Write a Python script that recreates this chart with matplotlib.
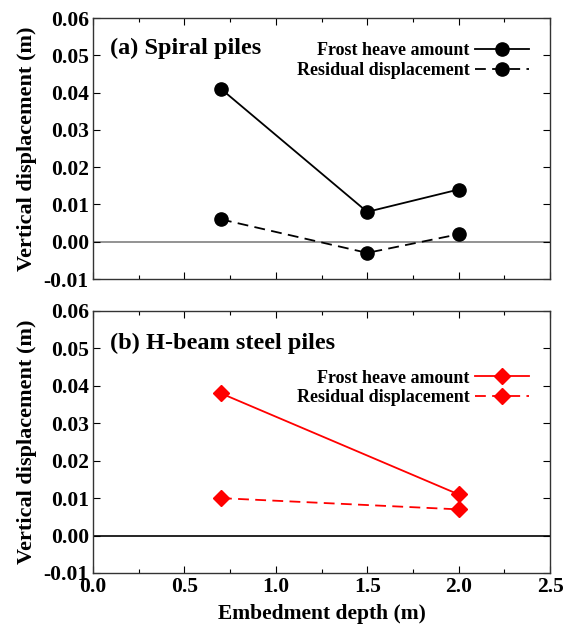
import matplotlib
matplotlib.use("Agg")
import matplotlib.pyplot as plt
from matplotlib.ticker import MultipleLocator

plt.rcParams['font.family'] = ['Liberation Serif', 'DejaVu Serif']
plt.rcParams['font.weight'] = 'bold'

x_spiral = [0.7, 1.5, 2.0]
frost_spiral = [0.041, 0.008, 0.014]
resid_spiral = [0.006, -0.003, 0.002]

x_hbeam = [0.7, 2.0]
frost_hbeam = [0.038, 0.011]
resid_hbeam = [0.010, 0.007]

titles = ["(a) Spiral piles", "(b) H-beam steel piles"]
series_labels = ["Frost heave amount", "Residual displacement"]
xlabel = "Embedment depth (m)"
ylabel = "Vertical displacement (m)"

W, H = 565, 626
fig = plt.figure(figsize=(W/100, H/100), dpi=100)
left, right = 93/W, 550/W
ax1 = fig.add_axes([left, 1-279/H, right-left, (279-18)/H])
ax2 = fig.add_axes([left, 1-573/H, right-left, (573-311)/H])

panels = [
    (ax1, x_spiral, frost_spiral, resid_spiral, 'black', 'o', 9.5, '#808080', 0.955, 0.885),
    (ax2, x_hbeam, frost_hbeam, resid_hbeam, 'red', 'D', 8.5, 'black', 0.824, 0.875),
]
for i, (ax, xs, fr, rs, c, m, ms, zc, ly, ty) in enumerate(panels):
    ax.axhline(0, color=zc, lw=1.2, zorder=1)
    ax.plot(xs, fr, color=c, marker=m, ms=ms, lw=1.3, ls='-', label=series_labels[0], zorder=3)
    ax.plot(xs, rs, color=c, marker=m, ms=ms, lw=1.3, ls=(0, (6, 3.5)), label=series_labels[1], zorder=3)
    ax.set_xlim(0, 2.5)
    ax.set_ylim(-0.01, 0.06)
    ax.xaxis.set_major_locator(MultipleLocator(0.5))
    ax.xaxis.set_minor_locator(MultipleLocator(0.25))
    ax.yaxis.set_major_locator(MultipleLocator(0.01))
    ax.tick_params(which='both', direction='in', top=True, right=True, labelsize=15.5)
    ax.tick_params(which='major', length=5, width=0.8, pad=3)
    ax.tick_params(which='minor', length=3, width=0.8)
    ax.yaxis.set_major_formatter(matplotlib.ticker.FormatStrFormatter('%.2f'))
    ax.xaxis.set_major_formatter(matplotlib.ticker.FormatStrFormatter('%.1f'))
    for s in ax.spines.values():
        s.set_linewidth(1.0)
        s.set_color('#333333')
    ax.set_ylabel(ylabel, fontsize=16, fontweight='bold', labelpad=5)
    ax.legend(loc='upper right', frameon=False, markerfirst=False,
              fontsize=13, handlelength=3.0, handletextpad=0.3,
              labelspacing=0.15, borderaxespad=0.3,
              bbox_to_anchor=(0.982, ly))
    ax.text(0.038, ty, titles[i], transform=ax.transAxes, fontsize=17.5,
            fontweight='bold', va='center', ha='left')

ax1.tick_params(labelbottom=False)
ax2.set_xlabel(xlabel, fontsize=15.5, fontweight='bold', labelpad=5)

fig.savefig("out.png", dpi=100)
